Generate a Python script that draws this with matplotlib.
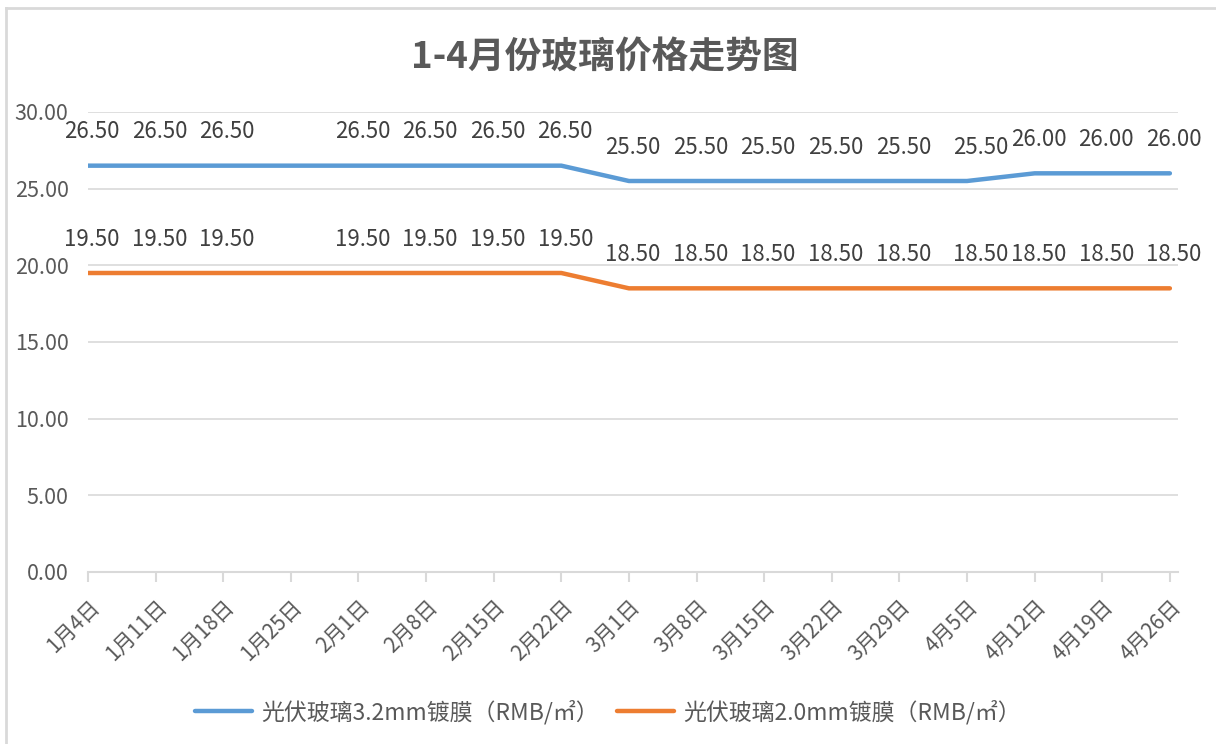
import numpy as np
import matplotlib
matplotlib.use("Agg")
import matplotlib.pyplot as plt
from matplotlib.lines import Line2D

plt.rcParams['font.family'] = ['Noto Sans CJK SC', 'DejaVu Sans']

dates = ["1月4日", "1月11日", "1月18日", "1月25日", "2月1日", "2月8日", "2月15日", "2月22日",
         "3月1日", "3月8日", "3月15日", "3月22日", "3月29日", "4月5日", "4月12日", "4月19日", "4月26日"]
# 1月25日 has no data (line connects across the gap)
glass_32 = [26.5, 26.5, 26.5, np.nan, 26.5, 26.5, 26.5, 26.5,
            25.5, 25.5, 25.5, 25.5, 25.5, 25.5, 26.0, 26.0, 26.0]
glass_20 = [19.5, 19.5, 19.5, np.nan, 19.5, 19.5, 19.5, 19.5,
            18.5, 18.5, 18.5, 18.5, 18.5, 18.5, 18.5, 18.5, 18.5]
names = ["光伏玻璃3.2mm镀膜（RMB/㎡）", "光伏玻璃2.0mm镀膜（RMB/㎡）"]
colors = ["#5B9BD5", "#ED7D31"]
txt = "#595959"
grid = "#d9d9d9"

fig = plt.figure(figsize=(12.16, 7.44), dpi=100)
ax = fig.add_axes([88/1216, 1-572/744, (1178-88)/1216, (572-112)/744])

x = np.arange(len(dates))
nudge = {13: 10}  # excel pushed these labels a bit right
for vals, name, c in zip([glass_32, glass_20], names, colors):
    v = np.array(vals, dtype=float)
    ok = ~np.isnan(v)
    ax.plot(x[ok], v[ok], color=c, lw=3.2, solid_capstyle='round', label=name, zorder=3)
    for i in x[ok]:
        ax.annotate("%.2f" % v[i], (i, v[i]), xytext=(4 + nudge.get(i, 0), 34),
                    textcoords='offset pixels', ha='center', va='center',
                    fontsize=16, color='#404040')

ax.set_xlim(0, 16.12)
ax.set_ylim(0, 30)
ax.set_yticks(np.arange(0, 31, 5))
ax.yaxis.set_major_formatter(plt.FuncFormatter(lambda v, p: "%.2f" % v))
ax.set_xticks(x)
ax.set_xticklabels(dates, rotation=45, ha='right', rotation_mode='anchor')
ax.grid(axis='y', color=grid, lw=1.2)
ax.set_axisbelow(True)
for s in ['left', 'right', 'top']:
    ax.spines[s].set_visible(False)
ax.spines['bottom'].set_color(grid)
ax.spines['bottom'].set_linewidth(1.5)
ax.tick_params(axis='y', length=0, labelsize=15.5, labelcolor=txt, pad=14)
ax.tick_params(axis='x', length=7, width=1.5, color=grid, labelsize=15, labelcolor=txt, pad=10)

fig.text(605/1216, 1-58/744, "1-4月份玻璃价格走势图", ha='center', va='center',
         fontsize=26.5, fontweight='bold', color=txt)

fig.legend(loc='center', bbox_to_anchor=(608/1216, 1-712/744), ncol=2, frameon=False,
           fontsize=16.5, handlelength=2.5, columnspacing=0.8, handletextpad=0.4, labelcolor=txt)

# chart border (only top/left visible in crop)
fig.add_artist(Line2D([6/1216, 1], [1-8/744, 1-8/744], color=grid, lw=2, transform=fig.transFigure))
fig.add_artist(Line2D([6/1216, 6/1216], [0, 1-8/744], color=grid, lw=2, transform=fig.transFigure))

fig.savefig("out.png", dpi=100)
